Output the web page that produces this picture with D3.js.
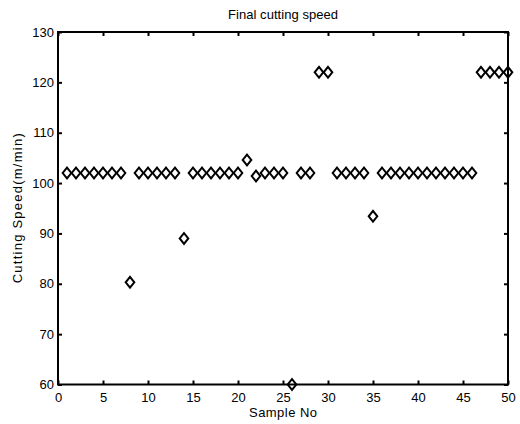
<!DOCTYPE html>
<html>
<head>
<meta charset="utf-8">
<script src="https://cdn.jsdelivr.net/npm/d3@7"></script>
<style>
  html, body { margin: 0; padding: 0; background: #fff; }
  text { font-family: "Liberation Sans", Arial, sans-serif; fill: #000; }
</style>
</head>
<body>
<svg id="chart" width="520" height="424"></svg>
<script>
const sampleNo = d3.range(1, 51);
const cuttingSpeed = [
  102, 102, 102, 102, 102, 102, 102, 80.3, 102, 102,
  102, 102, 102, 89, 102, 102, 102, 102, 102, 102,
  104.6, 101.4, 102, 102, 102, 60, 102, 102, 122, 122,
  102, 102, 102, 102, 93.4, 102, 102, 102, 102, 102,
  102, 102, 102, 102, 102, 102, 122, 122, 122, 122
];
const xTicks = [0, 5, 10, 15, 20, 25, 30, 35, 40, 45, 50];
const yTicks = [60, 70, 80, 90, 100, 110, 120, 130];
const titleText = "Final cutting speed";
const xLabel = "Sample No";
const yLabel = "Cutting Speed(m/min)";

const svg = d3.select("#chart");
const m = { left: 58, right: 12, top: 32, bottom: 39.5 };
const W = 520, H = 424;
const x = d3.scaleLinear().domain([0, 50]).range([m.left, W - m.right]);
const y = d3.scaleLinear().domain([60, 130]).range([H - m.bottom, m.top]);

const tickLen = 4;
const fs = "13px";
const ff = '"Liberation Sans", Arial, sans-serif';

const gx = svg.append("g").attr("transform", `translate(0,${y(60)})`)
  .call(d3.axisBottom(x).tickValues(xTicks).tickSizeInner(-tickLen).tickSizeOuter(0).tickPadding(8));
const gxt = svg.append("g").attr("transform", `translate(0,${y(130)})`)
  .call(d3.axisTop(x).tickValues(xTicks).tickSizeInner(-tickLen).tickSizeOuter(0).tickFormat(""));
const gy = svg.append("g").attr("transform", `translate(${x(0)},0)`)
  .call(d3.axisLeft(y).tickValues(yTicks).tickSizeInner(-tickLen).tickSizeOuter(0).tickPadding(4));
const gyr = svg.append("g").attr("transform", `translate(${x(50)},0)`)
  .call(d3.axisRight(y).tickValues(yTicks).tickSizeInner(-tickLen).tickSizeOuter(0).tickFormat(""));

[gx, gxt, gy, gyr].forEach(g => {
  g.select(".domain").remove();
  g.selectAll(".tick line").attr("stroke", "#000").attr("stroke-width", 2);
  g.selectAll(".tick text").style("font-size", fs).style("font-family", ff).attr("fill", "#000");
});

svg.append("rect")
  .attr("x", x(0)).attr("y", y(130))
  .attr("width", x(50) - x(0)).attr("height", y(60) - y(130))
  .attr("fill", "none").attr("stroke", "#000").attr("stroke-width", 2);

const hw = 4.3, hh = 5.4;
svg.append("g").selectAll("path")
  .data(sampleNo.map((s, i) => [s, cuttingSpeed[i]]))
  .join("path")
  .attr("d", d => {
    const cx = x(d[0]), cy = y(d[1]);
    return `M${cx},${cy - hh}L${cx + hw},${cy}L${cx},${cy + hh}L${cx - hw},${cy}Z`;
  })
  .attr("fill", "none").attr("stroke", "#000").attr("stroke-width", 2);

const cxMid = (x(0) + x(50)) / 2;
svg.append("text").attr("x", cxMid).attr("y", 19)
  .attr("text-anchor", "middle").style("font-size", fs)
  .attr("textLength", 110).attr("lengthAdjust", "spacing").text(titleText);
svg.append("text").attr("x", cxMid).attr("y", 417)
  .attr("text-anchor", "middle").style("font-size", fs)
  .attr("textLength", 68).attr("lengthAdjust", "spacing").text(xLabel);
svg.append("text")
  .attr("transform", `translate(22,${(y(60) + y(130)) / 2}) rotate(-90)`)
  .attr("text-anchor", "middle").style("font-size", fs)
  .attr("textLength", 150).attr("lengthAdjust", "spacing").text(yLabel);
</script>
</body>
</html>
